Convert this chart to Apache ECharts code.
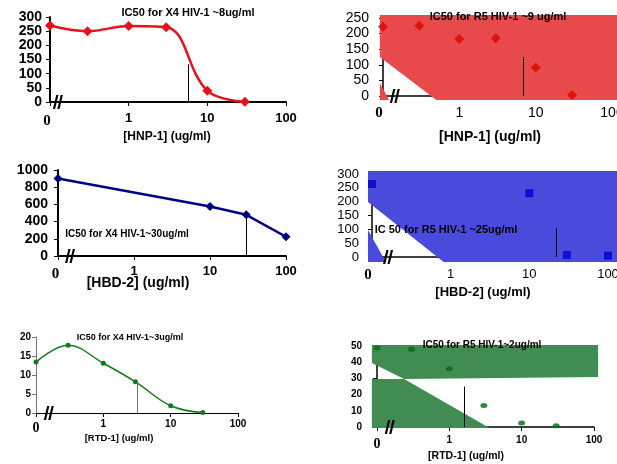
<!DOCTYPE html>
<html><head><meta charset="utf-8">
<script src="https://cdn.jsdelivr.net/npm/echarts@6/dist/echarts.min.js"></script>
<style>html,body{margin:0;padding:0;background:#fff}#c{width:617px;height:464px}</style>
</head><body><div id="c"></div>
<script>
// ---------------- data ----------------
const hnpConc = [0.1, 0.3, 1, 3, 10, 30];
const x4HnpValues = [270, 250, 268, 264, 40, 1];
const r5HnpValues = [222, 225, 183, 185, 91, 3];
const hbdConcX4 = [0.1, 10, 30, 100];
const x4HbdValues = [902, 576, 479, 224];
const hbdConcR5 = [0.1, 10, 30, 100];
const r5HbdValues = [264, 231, 7, 5];
const rtdConc = [0.1, 0.3, 1, 3, 10, 30];
const x4RtdValues = [13.4, 17.8, 13.1, 8.2, 1.9, 0.1];
const r5RtdValues = [48.8, 48, 36, 13.2, 2.5, 0.8];

// IC50 guide lines: [concentration, height]
const ic50X4Hnp = [5.7, 133];
const ic50R5Hnp = [6.9, 125];
const ic50X4Hbd = [30, 479];
const ic50R5Hbd = [22, 105];
const ic50X4Rtd = [3.2, 8.2];
const ic50R5Rtd = [1.6, 25];

// axis-break positions (concentration)
const breakX4Hnp = 0.126, breakR5Hnp = 0.143, breakX4Hbd = 0.144;
const breakR5Hbd = 0.16, breakX4Rtd = 0.155, breakR5Rtd = 0.15;

const xTickValues = [0.1, 1, 10, 100];
const xTickLabels = ['0', '1', '10', '100'];

const panelTitles = ['IC50 for X4 HIV-1 ~8ug/ml', 'IC50 for R5 HIV-1 ~9 ug/ml',
  'IC50 for X4 HIV-1~30ug/ml', 'IC 50 for R5 HIV-1 ~25ug/ml',
  'IC50 for X4 HIV-1~3ug/ml', 'IC50 for R5 HIV-1~2ug/ml'];
const axisTitles = ['[HNP-1] (ug/ml)', '[HNP-1] (ug/ml)', '[HBD-2] (ug/ml)',
  '[HBD-2] (ug/ml)', '[RTD-1] (ug/ml)', '[RTD-1] (ug/ml)'];

// filled artefact regions of the R5 panels (concentration, value)
const r5HnpFillMain = [[0.091, 260], [130, 260], [130, -13], [0.50, -13], [0.091, 125]];
const r5HnpFillCorner = [[0.091, 42], [0.12, -13], [0.091, -13]];
const r5HbdFillMain = [[0.089, 311], [140, 311], [140, -18], [0.815, -18], [0.089, 199]];
const r5HbdFillCorner = [[0.089, 97.6], [0.15, -18], [0.089, -18]];
const r5RtdFillUpper = [[0.085, 50.6], [114, 50.6], [114, 30.9], [0.237, 29.6], [0.085, 39.5]];
const r5RtdFillLower = [[0.085, 29.6], [0.237, 29.6], [3.6, -0.6], [0.085, -0.6]];

// ---------------- helpers ----------------
const SANS = 'Liberation Sans', SERIF = 'Liberation Serif';
const pairs = (xs, ys) => xs.map((x, i) => [x, ys[i]]);
const BREAK_PATH = 'path://M0,14L3,0L5,0L2,14Z M4,14L7,0L9,0L6,14Z';

function xAxis(grid, o) {
  return {
    type: 'log', logBase: 10, gridIndex: grid, min: 0.1, max: 100,
    axisLine: { show: true, lineStyle: { color: '#000', width: o.lw } },
    axisTick: { show: true, inside: false, length: 4, lineStyle: { color: '#000', width: 1 } },
    minorTick: { show: false }, splitLine: { show: false },
    axisLabel: {
      margin: o.margin, fontFamily: SANS, fontSize: o.fs, fontWeight: o.fw, color: '#000',
      formatter: v => {
        const i = xTickValues.findIndex(t => Math.abs(Math.log10(t) - Math.log10(v)) < 1e-6);
        if (i < 0) return '';
        return i === 0 ? '{z|' + xTickLabels[0] + '}' : xTickLabels[i];
      },
      rich: { z: { fontFamily: SERIF, fontWeight: 'bold', fontSize: o.zfs, color: '#000', padding: [o.zpad || 0, o.zshift || 0, 0, 0] } }
    }
  };
}
function yAxis(grid, o) {
  return {
    type: 'value', gridIndex: grid, min: o.min, max: o.max, interval: o.interval,
    axisLine: { show: true, lineStyle: { color: o.lc || '#000', width: o.lw } },
    axisTick: { show: true, inside: false, length: 4, lineStyle: { color: o.lc || '#000' } },
    splitLine: { show: false },
    axisLabel: { margin: o.margin, fontFamily: SANS, fontSize: o.fs, fontWeight: o.fw, color: '#000',
      formatter: v => String(v) }
  };
}
function ic50Line(v, color) {
  return {
    silent: true, symbol: 'none', animation: false,
    label: { show: false },
    lineStyle: { color: color || '#000', width: 1, type: 'solid' },
    data: [[{ coord: [v[0], 0] }, { coord: [v[0], v[1]] }]]
  };
}
function breakMark(x) {
  return {
    silent: true, animation: false, symbol: BREAK_PATH, symbolSize: [10, 14],
    itemStyle: { color: '#000' }, label: { show: false },
    data: [{ coord: [x, 0] }]
  };
}
function fillSeries(idx, polys, color) {
  return {
    type: 'custom', xAxisIndex: idx, yAxisIndex: idx, z: 1, clip: false, silent: true,
    animation: false,
    data: polys.map(p => p[0]),
    renderItem: (params, api) => ({
      type: 'polygon',
      shape: { points: polys[params.dataIndex].map(p => api.coord(p)) },
      style: { fill: color }
    })
  };
}

const grids = [
  { left: 50, top: 17, width: 236, height: 85 },
  { left: 383, top: 18, width: 229, height: 78 },
  { left: 58, top: 170, width: 228, height: 86 },
  { left: 372, top: 174, width: 236, height: 83 },
  { left: 36, top: 337, width: 202, height: 76 },
  { left: 377, top: 346, width: 217, height: 81 }
];

const option = {
  animation: false,
  backgroundColor: '#fff',
  grid: grids.map(g => Object.assign({ containLabel: false, outerBoundsMode: 'none' }, g)),
  xAxis: [
    xAxis(0, { lw: 2, margin: 10, fs: 13, fw: 'bold', zfs: 15, zpad: 2, zshift: 6 }),
    xAxis(1, { lw: 1.5, margin: 10, fs: 14, fw: 'normal', zfs: 15, zpad: 0, zshift: 8 }),
    xAxis(2, { lw: 2, margin: 9, fs: 13, fw: 'bold', zfs: 15, zpad: 2, zshift: 5 }),
    xAxis(3, { lw: 1.5, margin: 11, fs: 13, fw: 'normal', zfs: 15, zpad: 0, zshift: 8 }),
    xAxis(4, { lw: 1, margin: 6, fs: 10, fw: 'bold', zfs: 14, zpad: 2, zshift: 0 }),
    xAxis(5, { lw: 1.5, margin: 8, fs: 10, fw: 'bold', zfs: 14, zpad: 2, zshift: 0 })
  ],
  yAxis: [
    yAxis(0, { min: 0, max: 300, interval: 50, lw: 2, margin: 8, fs: 14, fw: 'bold' }),
    yAxis(1, { min: 0, max: 250, interval: 50, lw: 1.5, margin: 14, fs: 14, fw: 'normal' }),
    yAxis(2, { min: 0, max: 1000, interval: 200, lw: 2, margin: 10, fs: 14, fw: 'bold' }),
    yAxis(3, { min: 0, max: 300, interval: 50, lw: 1.5, margin: 13, fs: 13, fw: 'normal' }),
    yAxis(4, { min: 0, max: 20, interval: 5, lw: 1, margin: 5, fs: 10, fw: 'bold', lc: '#777' }),
    yAxis(5, { min: 0, max: 50, interval: 10, lw: 1.5, margin: 15, fs: 10, fw: 'bold' })
  ],
  series: [
    {
      type: 'line', xAxisIndex: 0, yAxisIndex: 0, data: pairs(hnpConc, x4HnpValues),
      smooth: 0.4, lineStyle: { color: '#e4131b', width: 2.5 }, itemStyle: { color: '#e4131b' },
      symbol: 'diamond', symbolSize: 10, z: 3,
      markLine: ic50Line(ic50X4Hnp), markPoint: breakMark(breakX4Hnp)
    },
    fillSeries(1, [r5HnpFillMain, r5HnpFillCorner], '#e84a4c'),
    {
      type: 'scatter', xAxisIndex: 1, yAxisIndex: 1, data: pairs(hnpConc, r5HnpValues),
      symbol: 'diamond', symbolSize: 10, itemStyle: { color: '#e00000' }, z: 3,
      markLine: ic50Line(ic50R5Hnp), markPoint: breakMark(breakR5Hnp)
    },
    {
      type: 'line', xAxisIndex: 2, yAxisIndex: 2, data: pairs(hbdConcX4, x4HbdValues),
      lineStyle: { color: '#000080', width: 2.5 }, itemStyle: { color: '#000080' },
      symbol: 'diamond', symbolSize: 9, z: 3,
      markLine: ic50Line(ic50X4Hbd), markPoint: breakMark(breakX4Hbd)
    },
    fillSeries(3, [r5HbdFillMain, r5HbdFillCorner], '#4a4adc'),
    {
      type: 'scatter', xAxisIndex: 3, yAxisIndex: 3, data: pairs(hbdConcR5, r5HbdValues),
      symbol: 'rect', symbolSize: 8, itemStyle: { color: '#0000d0' }, z: 3,
      markLine: ic50Line(ic50R5Hbd), markPoint: breakMark(breakR5Hbd)
    },
    {
      type: 'line', xAxisIndex: 4, yAxisIndex: 4, data: pairs(rtdConc, x4RtdValues),
      smooth: 0.4, lineStyle: { color: '#127a1a', width: 1.5 }, itemStyle: { color: '#127a1a' },
      symbol: 'circle', symbolSize: 5, z: 3,
      markLine: ic50Line(ic50X4Rtd, '#777'), markPoint: breakMark(breakX4Rtd)
    },
    fillSeries(5, [r5RtdFillUpper, r5RtdFillLower], '#418c52'),
    {
      type: 'scatter', xAxisIndex: 5, yAxisIndex: 5, data: pairs(rtdConc, r5RtdValues),
      symbol: 'circle', symbolSize: [7, 5], itemStyle: { color: '#006a10' }, z: 3,
      markLine: ic50Line(ic50R5Rtd), markPoint: breakMark(breakR5Rtd)
    }
  ],
  graphic: [
    [panelTitles[0], 188, 13, 11], [panelTitles[1], 498, 17, 11],
    [panelTitles[2], 127, 234, 10], [panelTitles[3], 446, 230, 11],
    [panelTitles[4], 130, 338, 9], [panelTitles[5], 482, 345, 10],
    [axisTitles[0], 167, 137, 12], [axisTitles[1], 490, 137, 14],
    [axisTitles[2], 138, 283, 14], [axisTitles[3], 483, 292, 13],
    [axisTitles[4], 119, 438, 9.5], [axisTitles[5], 466, 456, 10.5]
  ].map(([t, x, y, fs]) => ({
    type: 'text', x: x, y: y, z: 100, silent: true,
    style: { text: t, fill: '#000', font: 'bold ' + fs + 'px "' + SANS + '"', textAlign: 'center', textVerticalAlign: 'middle' }
  }))
};

const chart = echarts.init(document.getElementById('c'), null, { renderer: 'canvas' });
chart.setOption(option);
</script>
</body></html>
